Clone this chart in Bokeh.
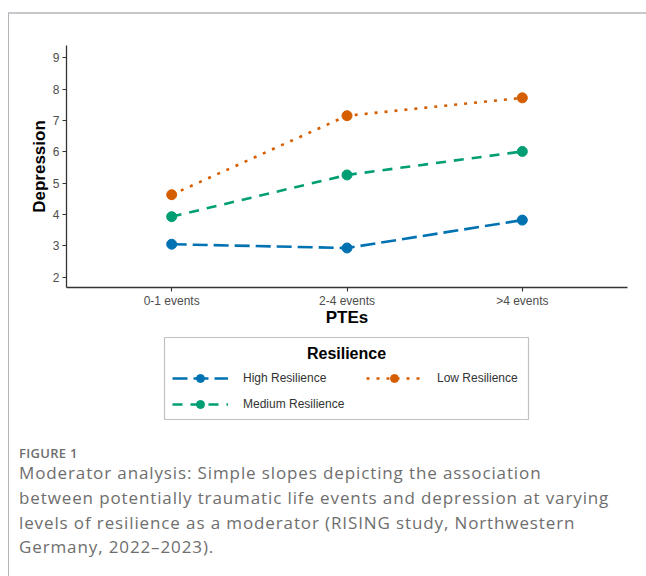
from bokeh.plotting import figure
from bokeh.layouts import column
from bokeh.models import Range1d, FixedTicker, Legend, LegendItem, Label, BoxAnnotation, Div
from bokeh.embed import file_html
from bokeh.resources import INLINE

# ---------------- data ----------------
categories = ["0-1 events", "2-4 events", ">4 events"]
high_resilience = [3.05, 2.93, 3.82]
low_resilience = [4.63, 7.15, 7.72]
medium_resilience = [3.93, 5.26, 6.01]
series_names = ["High Resilience", "Low Resilience", "Medium Resilience"]
y_ticks = [2, 3, 4, 5, 6, 7, 8, 9]
x_title = "PTEs"
y_title = "Depression"
legend_title = "Resilience"
caption_head = "FIGURE 1"
caption_lines = [
    "Moderator analysis: Simple slopes depicting the association",
    "between potentially traumatic life events and depression at varying",
    "levels of resilience as a moderator (RISING study, Northwestern",
    "Germany, 2022\u20132023).",
]

colors = ["#0072B2", "#D55E00", "#009E73"]
dashes = ["15 6", "3 7", "10 8"]
series = [high_resilience, low_resilience, medium_resilience]
xs = list(range(1, len(categories) + 1))

# ---------------- chart figure ----------------
W, H1, H2 = 637, 318, 108
H3 = 576 - 14 - H1 - H2
FL, FR, FT, FB = 57, 618, 31, 273   # frame edges in figure pixels

p = figure(width=W, height=H1, output_backend="svg", toolbar_location=None,
           x_range=Range1d(0.4, 3.6), y_range=Range1d(1.67, 9.39),
           min_border_left=FL, min_border_right=W - FR,
           min_border_top=FT, min_border_bottom=H1 - FB)
p.outline_line_color = None
p.grid.visible = False

AX_COL = "#333333"
TICK_COL = "#4d4d4d"
for ax in (p.xaxis[0], p.yaxis[0]):
    ax.axis_line_color = AX_COL
    ax.axis_line_width = 1.3
    ax.major_tick_line_color = AX_COL
    ax.major_tick_line_width = 1.1
    ax.major_tick_in = 0
    ax.major_tick_out = 4
    ax.minor_tick_line_color = None
    ax.major_label_text_font = "Liberation Sans"
    ax.major_label_text_font_size = "12px"
    ax.major_label_text_color = TICK_COL
    ax.axis_label_text_font = "Liberation Sans"
    ax.axis_label_text_font_style = "bold"
    ax.axis_label_text_font_size = "17px"
    ax.axis_label_text_color = "black"

p.xaxis.ticker = FixedTicker(ticks=xs)
p.xaxis.major_label_overrides = {x: c for x, c in zip(xs, categories)}
p.xaxis.axis_label = x_title
p.xaxis.major_label_standoff = 2
p.xaxis.axis_label_standoff = -3
p.yaxis.ticker = FixedTicker(ticks=y_ticks)
p.yaxis.axis_label = y_title
p.yaxis.major_label_standoff = 3
p.yaxis.axis_label_standoff = 1

for vals, col, dash in zip(series, colors, dashes):
    p.line(xs, vals, line_color=col, line_width=2.6, line_dash=dash)
    p.scatter(xs, vals, size=10, fill_color=col, line_color=col)

# ---------------- legend figure ----------------
q = figure(width=W, height=H2, output_backend="svg", toolbar_location=None,
           x_range=Range1d(0.4, 3.6), y_range=Range1d(1.67, 9.39),
           x_axis_location=None, y_axis_location=None, min_border=0)
q.outline_line_color = None
q.grid.visible = False

Q_LEFT = 66            # page x of q's frame left edge (aligned with chart frame)
Q_BOTTOM = 14 + H1 + H2  # page y of q's bottom edge


def qx(px):
    return px - Q_LEFT


def qy(py):
    return Q_BOTTOM - py


legend_order = [0, 2, 1]   # column-major fill -> High, Low on row 1; Medium on row 2
items = []
for k in legend_order:
    name, vals, col, dash = series_names[k], series[k], colors[k], dashes[k]
    rl = q.line(xs, vals, line_color=col, line_width=2.6, line_dash=dash, visible=False)
    rp = q.scatter(xs, vals, size=6, fill_color=col, line_color=col, visible=False)
    items.append(LegendItem(label=name, renderers=[rl, rp]))

q.add_layout(BoxAnnotation(left=qx(164), right=qx(528), top=qy(337), bottom=qy(419),
                           left_units="screen", right_units="screen",
                           top_units="screen", bottom_units="screen",
                           fill_color="white", fill_alpha=1,
                           line_color="#333333", line_width=1.2))
q.add_layout(Label(x=qx(346), y=qy(353), x_units="screen", y_units="screen",
                   text=legend_title, text_align="center", text_baseline="middle",
                   text_font="Liberation Sans", text_font_style="bold",
                   text_font_size="16px", text_color="black"))

legend = Legend(items=items, ncols=2, location=(qx(172), qy(414)),
                border_line_color=None, background_fill_alpha=0,
                inactive_fill_alpha=0,
                padding=5, margin=0, spacing=6,
                glyph_width=56, glyph_height=20, label_height=20,
                label_standoff=15, label_width=117,
                label_text_font="Liberation Sans", label_text_font_size="12px",
                label_text_color="#333333")
q.add_layout(legend, "center")

# ---------------- caption ----------------
caption_html = (
    '<div style="font-weight:600;font-size:13px;line-height:16.4px;'
    'letter-spacing:0.3px;">' + caption_head + '</div>'
    + "<br>".join(caption_lines)
)
cap = Div(text=caption_html, width=W, height=H3,
          styles={"font-family": "'Open Sans', sans-serif", "font-size": "17px",
                  "line-height": "24.6px", "letter-spacing": "0.88px",
                  "color": "#6e6e6e", "padding-left": "5px", "padding-top": "0px",
                  "box-sizing": "border-box"})

page = column(p, q, cap, spacing=0,
              styles={"border-top": "2px solid #c8c8cc",
                      "border-left": "1px solid #b4b4b8",
                      "margin-left": "8px", "margin-top": "12px"})

open("out.html", "w").write(file_html(page, INLINE))
